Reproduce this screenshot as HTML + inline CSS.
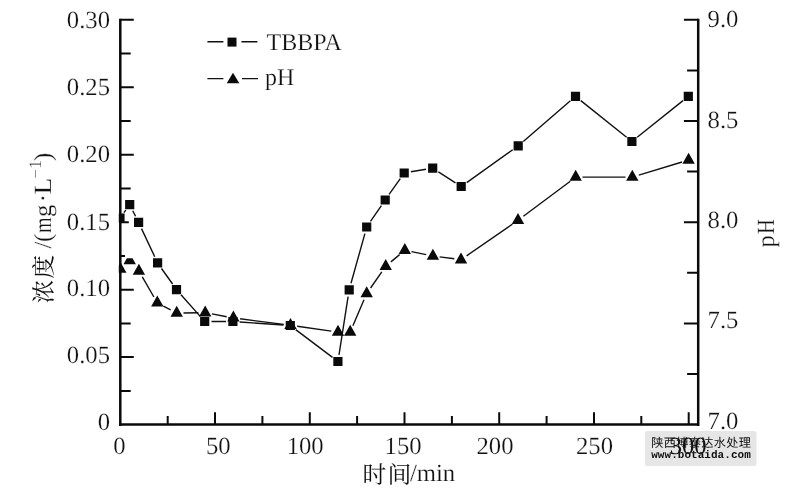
<!DOCTYPE html>
<html><head><meta charset="utf-8"><title>TBBPA / pH</title>
<style>html,body{margin:0;padding:0;background:#fff}svg{display:block;will-change:transform;opacity:0.999}text{font-family:"Liberation Serif",serif;fill:#111;text-rendering:geometricPrecision;stroke:#fff;stroke-width:0.2px}.t{font-size:24.7px}.m{font-family:"Liberation Mono",monospace}</style></head><body>
<svg width="800" height="495" viewBox="0 0 800 495">
<rect width="800" height="495" fill="#fff"/>
<defs><clipPath id="plot"><rect x="118.8" y="0" width="580.9" height="424.6"/></clipPath>
<clipPath id="t5"><rect x="100" y="258.2" width="60" height="20"/></clipPath></defs>
<g clip-path="url(#plot)">
<path d="M123.9 212.7L125.8 210.1M132.7 210.7L135.6 216.3M141.5 228.6L154.7 256.7M161.5 268.5L172.6 284.0M181.0 294.7L200.2 316.4M211.5 321.5L226.1 321.5M239.7 322.0L283.5 325.0M295.7 329.6L332.5 357.4M339.0 354.8L348.1 296.6M351.0 283.3L364.9 233.6M370.5 221.4L381.4 205.6M389.1 194.4L400.3 178.6M410.9 171.8L426.0 169.3M438.4 171.8L455.5 182.8M466.7 182.6L512.7 149.8M523.3 141.5L570.4 100.8M580.8 100.6L626.6 137.3M637.2 137.3L683.0 100.6" stroke="#111" stroke-width="1.4" fill="none"/>
<path d="M142.3 276.9L153.9 297.0M163.3 306.1L170.7 309.9M183.5 313.0L198.4 312.8M211.9 313.9L226.7 316.7M240.1 318.8L283.8 324.4M297.2 326.2L331.3 331.1M352.9 325.8L364.0 299.8M370.6 288.0L381.8 271.9M390.9 261.9L399.6 254.6M411.5 251.6L426.2 254.6M439.6 256.9L454.3 258.8M466.6 255.8L512.4 224.2M523.4 216.2L570.3 181.2M582.5 177.1L625.5 177.1M638.8 175.1L682.1 162.0" stroke="#111" stroke-width="1.4" fill="none"/>
<path d="M120.3 261.8L114.1 272.8L126.5 272.8ZM138.9 263.7L132.7 274.7L145.1 274.7ZM157.3 295.6L151.1 306.6L163.5 306.6ZM176.7 305.8L170.5 316.8L182.9 316.8ZM205.2 305.4L199.0 316.4L211.4 316.4ZM233.4 310.6L227.2 321.6L239.6 321.6ZM290.5 318.0L284.3 329.0L296.7 329.0ZM338.0 324.7L331.8 335.7L344.2 335.7ZM350.2 324.7L344.0 335.7L356.4 335.7ZM366.7 286.3L360.5 297.3L372.9 297.3ZM385.7 259.0L379.5 270.0L391.9 270.0ZM404.8 242.9L398.6 253.9L411.0 253.9ZM432.9 248.7L426.7 259.7L439.1 259.7ZM461.0 252.4L454.8 263.4L467.2 263.4ZM518.0 213.0L511.8 224.0L524.2 224.0ZM575.7 169.8L569.5 180.8L581.9 180.8ZM632.3 169.8L626.1 180.8L638.5 180.8ZM688.6 152.7L682.4 163.7L694.8 163.7Z" fill="#0a0a0a"/>
<path clip-path="url(#t5)" d="M129.7 253.2L123.5 264.2L135.9 264.2Z" fill="#0a0a0a"/>
<path d="M115.4 213.6h9.2v9.2h-9.2ZM125.1 200.0h9.2v9.2h-9.2ZM134.0 217.8h9.2v9.2h-9.2ZM153.0 258.3h9.2v9.2h-9.2ZM171.9 285.0h9.2v9.2h-9.2ZM200.1 316.9h9.2v9.2h-9.2ZM228.3 316.9h9.2v9.2h-9.2ZM285.7 320.9h9.2v9.2h-9.2ZM333.3 356.9h9.2v9.2h-9.2ZM344.6 285.3h9.2v9.2h-9.2ZM362.1 222.4h9.2v9.2h-9.2ZM380.6 195.4h9.2v9.2h-9.2ZM399.6 168.4h9.2v9.2h-9.2ZM428.1 163.5h9.2v9.2h-9.2ZM456.6 181.9h9.2v9.2h-9.2ZM513.6 141.3h9.2v9.2h-9.2ZM570.9 91.8h9.2v9.2h-9.2ZM627.3 136.9h9.2v9.2h-9.2ZM683.7 91.8h9.2v9.2h-9.2Z" fill="#0a0a0a"/>
</g>
<path d="M120.3 18.8V425.9M119.0 424.6H699.5M698.2 18.8V425.9" stroke="#0a0a0a" stroke-width="2.5" fill="none"/>
<path d="M120.3 390.9h10.4M120.3 357.1h13.5M120.3 323.4h10.4M120.3 289.7h13.5M120.3 255.9h4.7M120.3 222.2h8.5M120.3 188.5h10.4M120.3 154.7h13.5M120.3 121.0h10.4M120.3 87.3h13.5M120.3 53.5h10.4M120.3 19.8h13.5M698.2 374.0h-11.1M698.2 323.4h-14.3M698.2 272.8h-11.1M698.2 222.2h-14.3M698.2 171.6h-11.1M698.2 121.0h-14.3M698.2 70.4h-11.1M698.2 19.8h-14.3M167.7 424.6v-8.6M215.0 424.6v-12.4M262.4 424.6v-8.6M309.8 424.6v-12.4M357.1 424.6v-8.6M404.5 424.6v-12.4M451.9 424.6v-8.6M499.2 424.6v-12.4M546.6 424.6v-8.6M594.0 424.6v-12.4M641.3 424.6v-8.6M688.7 424.6v-12.4" stroke="#0a0a0a" stroke-width="2.0" fill="none"/>
<text class="t" x="110" y="430.0" text-anchor="end">0</text>
<text class="t" x="110" y="363.1" text-anchor="end">0.05</text>
<text class="t" x="110" y="295.9" text-anchor="end">0.10</text>
<text class="t" x="110" y="229.5" text-anchor="end">0.15</text>
<text class="t" x="110" y="162.3" text-anchor="end">0.20</text>
<text class="t" x="110" y="94.9" text-anchor="end">0.25</text>
<text class="t" x="110" y="27.8" text-anchor="end">0.30</text>
<text class="t" x="707.6" y="428.8">7.0</text>
<text class="t" x="707.6" y="328.1">7.5</text>
<text class="t" x="707.6" y="228.1">8.0</text>
<text class="t" x="707.6" y="127.5">8.5</text>
<text class="t" x="707.6" y="27.0">9.0</text>
<rect x="645" y="431" width="111.5" height="35" rx="2.5" fill="#e6e6e6"/>
<text class="t" x="119.4" y="453.7" text-anchor="middle">0</text>
<text class="t" x="218.3" y="453.7" text-anchor="middle">50</text>
<text class="t" x="305.2" y="453.7" text-anchor="middle">100</text>
<text class="t" x="403.1" y="453.7" text-anchor="middle">150</text>
<text class="t" x="495.0" y="453.7" text-anchor="middle">200</text>
<text class="t" x="594.5" y="453.7" text-anchor="middle">250</text>
<text class="t" x="688.2" y="453.7" text-anchor="middle" style="stroke:none">300</text>
<path d="M207.4 41.8H223.4M241.4 41.8H257.4M207.4 78.6H223.4M242 78.6H258" stroke="#111" stroke-width="1.4"/>
<rect x="227.5" y="37.6" width="9" height="9" fill="#0a0a0a"/>
<path d="M233 72.8L226.7 83.2H239.3Z" fill="#0a0a0a"/>
<text class="t" x="266.6" y="50" style="font-size:24px">TBBPA</text>
<text class="t" x="265.0" y="85" style="font-size:24px">pH</text>
<text x="362.4" y="483" style="font-family:'Liberation Serif','Noto Serif CJK SC',serif;font-size:23.8px;stroke:none" textLength="49" lengthAdjust="spacing">时间</text>
<text class="t" x="410.0" y="480.6" textLength="45.2" lengthAdjust="spacing">/min</text>
<g transform="translate(50.6 302) rotate(-90)">
<text x="-1.4" y="1.8" style="font-family:'Liberation Serif','Noto Serif CJK SC',serif;font-size:23.6px;stroke:none" textLength="48.4" lengthAdjust="spacing">浓度</text>
<text class="t" x="53.4" y="0">/</text>
<text class="t" x="60.0" y="0">(</text>
<text class="t" x="69.0" y="0" textLength="15.5" lengthAdjust="spacingAndGlyphs">m</text>
<text class="t" x="84.9" y="0">g</text>
<text class="t" x="99.7" y="0">·</text>
<text class="t" x="107.6" y="0" textLength="16.8" lengthAdjust="spacingAndGlyphs">L</text>
<text x="123.4" y="-9.8" style="font-size:16.5px">−</text>
<text x="133.2" y="-9.8" style="font-size:17.5px">1</text>
<text class="t" x="141.0" y="0">)</text>
</g>
<g transform="translate(773.8 247.4) rotate(-90)"><text class="t" x="0" y="0">p</text><text class="t" x="13.3" y="0" textLength="14.9" lengthAdjust="spacingAndGlyphs">H</text></g>
<text x="651.2" y="447.3" style="font-family:'Liberation Sans','Noto Sans CJK SC',sans-serif;font-size:12.2px;stroke:none" textLength="99.7" lengthAdjust="spacing">陕西博泰达水处理</text>
<text class="m" x="651.2" y="458.3" style="font-size:11px;font-weight:bold;stroke:none" textLength="99.6" lengthAdjust="spacing">www.botaida.com</text>
</svg></body></html>
